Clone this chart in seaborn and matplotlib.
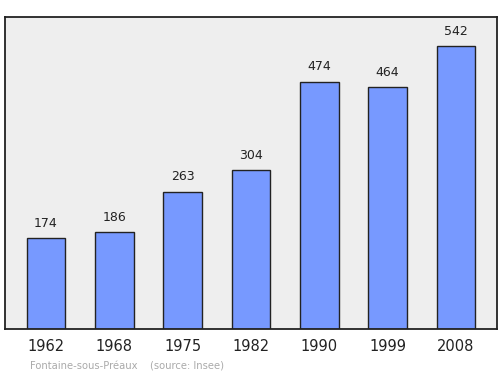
import matplotlib
matplotlib.use("Agg")
import matplotlib.pyplot as plt
import seaborn as sns
import pandas as pd

years = ["1962", "1968", "1975", "1982", "1990", "1999", "2008"]
population = [174, 186, 263, 304, 474, 464, 542]
source_text = "Fontaine-sous-Préaux    (source: Insee)"

sns.set_theme(style="white")
plt.rcParams['font.family'] = ['DejaVu Sans']

df = pd.DataFrame({"year": years, "pop": population})

fig = plt.figure(figsize=(5, 3.74), dpi=100)
ax = fig.add_axes([0.01, 0.1203, 0.984, 0.834])
ax.set_facecolor("#eeeeee")
sns.barplot(data=df, x="year", y="pop", color="#7799ff", saturation=1,
            edgecolor="#222222", linewidth=1, width=0.57, ax=ax)
ax.set_xlim(-0.6, 6.6)
ax.set_ylim(0, 598)
for i, v in enumerate(population):
    ax.annotate(str(v), (i, v), xytext=(0, 6), textcoords="offset points",
                ha="center", va="bottom", fontsize=9, color="#222222")
ax.set_yticks([])
ax.set_xlabel("")
ax.set_ylabel("")
ax.tick_params(axis="x", length=0, labelsize=10.5, pad=7, colors="#222222")
for s in ax.spines.values():
    s.set_visible(True)
    s.set_color("#222222")
    s.set_linewidth(1.3)
fig.text(0.06, 0.008, source_text, fontsize=7.2, color="#aaaaaa", ha="left", va="bottom")
fig.savefig("out.png", dpi=100, facecolor="white")
